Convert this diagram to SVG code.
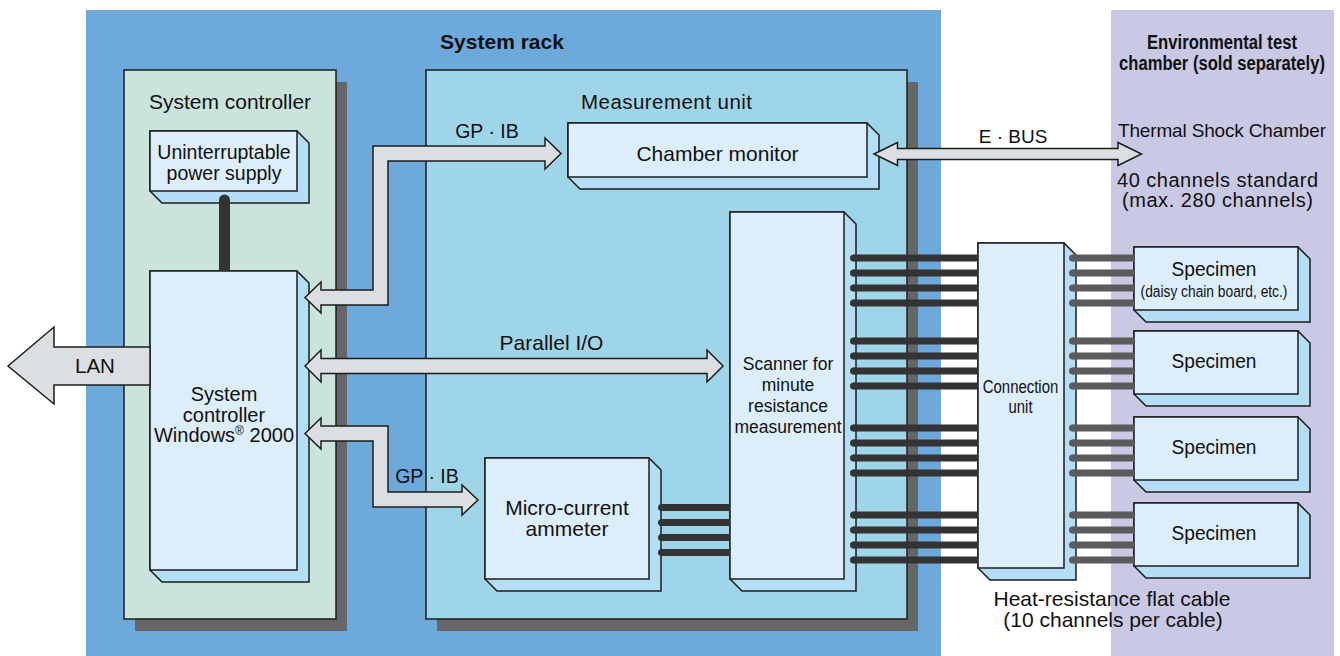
<svg xmlns="http://www.w3.org/2000/svg" width="1340" height="656" viewBox="0 0 1340 656">
  <style>
    text { font-family: "Liberation Sans", Arial, sans-serif; fill: #111; text-anchor: middle; }
    .b { font-weight: bold; }
    .panel-shadow { fill: #666; }
    .panel { stroke: #1c1c1c; stroke-width: 1.5; }
    .side { fill: #b4ddf6; stroke: #1c1c1c; stroke-width: 1.5; stroke-linejoin: miter; }
    .front { fill: #dceefc; stroke: #1c1c1c; stroke-width: 1.5; }
    .arrow { fill: #dcdfe2; stroke: #1c1c1c; stroke-width: 1.5; stroke-linejoin: miter; }
    .cd { stroke: #333; stroke-width: 7; marker-start: url(#capD); }
    .cg { stroke: #5b5b5b; stroke-width: 7; marker-start: url(#capG); }
  </style>
  <defs>
    <marker id="capD" viewBox="0 0 8 8" refX="4" refY="4" markerWidth="8" markerHeight="8" markerUnits="userSpaceOnUse">
      <circle cx="4" cy="4" r="3.5" fill="#333"/>
    </marker>
    <marker id="capG" viewBox="0 0 8 8" refX="4" refY="4" markerWidth="8" markerHeight="8" markerUnits="userSpaceOnUse">
      <circle cx="4" cy="4" r="3.5" fill="#5b5b5b"/>
    </marker>
  </defs>

  <rect width="1340" height="656" fill="#fff"/>

  <!-- system rack -->
  <g id="system-rack">
    <rect x="86" y="10" width="855" height="646" fill="#6ea9dc"/>
    <text class="b" x="502" y="49" font-size="21">System rack</text>
  </g>

  <!-- environmental test chamber -->
  <g id="test-chamber">
    <rect x="1111" y="10" width="223" height="646" fill="#c9c9e5"/>
    <text class="b" x="1222" y="49" font-size="19.5" textLength="150" lengthAdjust="spacingAndGlyphs">Environmental test</text>
    <text class="b" x="1222" y="70" font-size="19.5" textLength="206" lengthAdjust="spacingAndGlyphs">chamber (sold separately)</text>
    <text x="1222" y="137" font-size="19" textLength="208">Thermal Shock Chamber</text>
    <text x="1217.5" y="187" font-size="20" textLength="201">40 channels standard</text>
    <text x="1217.5" y="207" font-size="20" textLength="191">(max. 280 channels)</text>
  </g>

  <!-- system controller panel -->
  <g id="system-controller-panel">
    <rect class="panel-shadow" x="135" y="82" width="212" height="549"/>
    <rect class="panel" x="124" y="70" width="212" height="549" fill="#cae4dd"/>
    <text x="230" y="109" font-size="21">System controller</text>
  </g>

  <!-- measurement unit panel -->
  <g id="measurement-unit-panel">
    <rect class="panel-shadow" x="437" y="82" width="481" height="549"/>
    <rect class="panel" x="426" y="70" width="481" height="549" fill="#9fd5e8"/>
    <text x="666.5" y="109" font-size="20.5" textLength="171">Measurement unit</text>
  </g>

  <!-- uninterruptable power supply -->
  <g id="ups">
    <path class="side" d="M150,131 H297 L309,143 V203 H162 L150,191 Z"/>
    <rect class="front" x="150" y="131" width="147" height="60"/>
    <text x="224" y="159" font-size="19.5">Uninterruptable</text>
    <text x="224" y="180" font-size="19.5">power supply</text>
  </g>

  <!-- system controller PC -->
  <g id="system-controller">
    <path class="side" d="M150,271 H297 L309,283 V582 H162 L150,570 Z"/>
    <rect class="front" x="150" y="271" width="147" height="299"/>
    <text x="224" y="401" font-size="20">System</text>
    <text x="224" y="421.5" font-size="20">controller</text>
    <text x="224" y="442" font-size="20">Windows<tspan font-size="12" dy="-7">®</tspan><tspan dy="7"> 2000</tspan></text>
  </g>

  <!-- chamber monitor -->
  <g id="chamber-monitor">
    <path class="side" d="M568,123 H867 L879,135 V189 H580 L568,177 Z"/>
    <rect class="front" x="568" y="123" width="299" height="54"/>
    <text x="717.5" y="161" font-size="21">Chamber monitor</text>
  </g>

  <!-- scanner -->
  <g id="scanner">
    <path class="side" d="M730,212 H844 L856,224 V591 H742 L730,579 Z"/>
    <rect class="front" x="730" y="212" width="114" height="367"/>
    <text x="788" y="370" font-size="17.5">Scanner for</text>
    <text x="788" y="391" font-size="17.5">minute</text>
    <text x="788" y="412" font-size="17.5">resistance</text>
    <text x="788" y="433" font-size="17.5">measurement</text>
  </g>

  <!-- micro-current ammeter -->
  <g id="ammeter">
    <path class="side" d="M485,458 H649 L661,470 V591 H497 L485,579 Z"/>
    <rect class="front" x="485" y="458" width="164" height="121"/>
    <text x="567" y="515" font-size="21">Micro-current</text>
    <text x="567" y="536" font-size="21">ammeter</text>
  </g>

  <!-- connection unit -->
  <g id="connection-unit">
    <path class="side" d="M978,243 H1064 L1076,255 V580 H990 L978,568 Z"/>
    <rect class="front" x="978" y="243" width="86" height="325"/>
    <g transform="matrix(0.83 0 0 1 1020.5 0)">
      <text x="0" y="393" font-size="18">Connection</text>
      <text x="0" y="413" font-size="18">unit</text>
    </g>
  </g>

  <!-- specimens -->
  <g id="specimen-1">
    <path class="side" d="M1134,247 H1298 L1310,259 V322 H1146 L1134,310 Z"/>
    <rect class="front" x="1134" y="247" width="164" height="63"/>
    <text x="1214" y="276" font-size="19.5" textLength="85" lengthAdjust="spacingAndGlyphs">Specimen</text>
    <g transform="matrix(0.81 0 0 1 1214 0)">
      <text x="0" y="297" font-size="17">(daisy chain board, etc.)</text>
    </g>
  </g>
  <g id="specimen-2">
    <path class="side" d="M1134,331 H1298 L1310,343 V406 H1146 L1134,394 Z"/>
    <rect class="front" x="1134" y="331" width="164" height="63"/>
    <text x="1214" y="368" font-size="19.5" textLength="85" lengthAdjust="spacingAndGlyphs">Specimen</text>
  </g>
  <g id="specimen-3">
    <path class="side" d="M1134,417 H1298 L1310,429 V492 H1146 L1134,480 Z"/>
    <rect class="front" x="1134" y="417" width="164" height="63"/>
    <text x="1214" y="454" font-size="19.5" textLength="85" lengthAdjust="spacingAndGlyphs">Specimen</text>
  </g>
  <g id="specimen-4">
    <path class="side" d="M1134,503 H1298 L1310,515 V578 H1146 L1134,566 Z"/>
    <rect class="front" x="1134" y="503" width="164" height="63"/>
    <text x="1214" y="540" font-size="19.5" textLength="85" lengthAdjust="spacingAndGlyphs">Specimen</text>
  </g>

  <!-- connectors: buses, power link and flat cables -->
  <g id="connectors">
    <!-- UPS power link -->
    <path d="M219,271 V200 A5.5,5.5 0 0 1 230,200 V271 Z" fill="#333"/>

    <!-- LAN -->
    <path class="arrow" d="M8,366 L54,327 V347 H150 V385 H54 V404 Z"/>
    <text x="95" y="373" font-size="20.5">LAN</text>

    <!-- GP-IB to chamber monitor -->
    <path class="arrow" d="M305,297.5 L321,282 V290 H373 V146 H545 V138 L561,153.5 L545,169 V161 H388 V305 H321 V313 Z"/>
    <text x="487" y="137.5" font-size="19.5">GP · IB</text>

    <!-- parallel I/O -->
    <path class="arrow" d="M305,366 L321,350 V358.5 H707 V350 L723,366 L707,382 V373.5 H321 V382 Z"/>
    <text x="551.5" y="350" font-size="21">Parallel I/O</text>

    <!-- GP-IB to ammeter -->
    <path class="arrow" d="M305,433.5 L321,418 V426 H388 V492 H462 V485 L478,500 L462,515 V507 H373 V441 H321 V449 Z"/>
    <text x="427" y="483" font-size="19.5">GP · IB</text>

    <!-- E-BUS -->
    <path class="arrow" d="M874,154 L897.5,142.5 V148.5 H1118 V142.5 L1141.5,154 L1118,165.5 V159.5 H897.5 V165.5 Z"/>
    <text x="1013" y="142.5" font-size="19">E · BUS</text>

    <!-- ammeter to scanner -->
    <line class="cd" x1="661.5" y1="507.5" x2="730" y2="507.5"/>
    <line class="cd" x1="661.5" y1="522.5" x2="730" y2="522.5"/>
    <line class="cd" x1="661.5" y1="537.5" x2="730" y2="537.5"/>
    <line class="cd" x1="661.5" y1="552.5" x2="730" y2="552.5"/>

    <!-- scanner to connection unit -->
    <line class="cd" x1="853.5" y1="258" x2="978" y2="258"/>
    <line class="cd" x1="853.5" y1="273" x2="978" y2="273"/>
    <line class="cd" x1="853.5" y1="288" x2="978" y2="288"/>
    <line class="cd" x1="853.5" y1="303" x2="978" y2="303"/>
    <line class="cd" x1="853.5" y1="341" x2="978" y2="341"/>
    <line class="cd" x1="853.5" y1="356" x2="978" y2="356"/>
    <line class="cd" x1="853.5" y1="371" x2="978" y2="371"/>
    <line class="cd" x1="853.5" y1="386" x2="978" y2="386"/>
    <line class="cd" x1="853.5" y1="428" x2="978" y2="428"/>
    <line class="cd" x1="853.5" y1="443" x2="978" y2="443"/>
    <line class="cd" x1="853.5" y1="458" x2="978" y2="458"/>
    <line class="cd" x1="853.5" y1="473" x2="978" y2="473"/>
    <line class="cd" x1="853.5" y1="515" x2="978" y2="515"/>
    <line class="cd" x1="853.5" y1="530" x2="978" y2="530"/>
    <line class="cd" x1="853.5" y1="545" x2="978" y2="545"/>
    <line class="cd" x1="853.5" y1="560" x2="978" y2="560"/>

    <!-- connection unit to specimens -->
    <line class="cg" x1="1072.5" y1="258" x2="1134" y2="258"/>
    <line class="cg" x1="1072.5" y1="273" x2="1134" y2="273"/>
    <line class="cg" x1="1072.5" y1="288" x2="1134" y2="288"/>
    <line class="cg" x1="1072.5" y1="303" x2="1134" y2="303"/>
    <line class="cg" x1="1072.5" y1="341" x2="1134" y2="341"/>
    <line class="cg" x1="1072.5" y1="356" x2="1134" y2="356"/>
    <line class="cg" x1="1072.5" y1="371" x2="1134" y2="371"/>
    <line class="cg" x1="1072.5" y1="386" x2="1134" y2="386"/>
    <line class="cg" x1="1072.5" y1="428" x2="1134" y2="428"/>
    <line class="cg" x1="1072.5" y1="443" x2="1134" y2="443"/>
    <line class="cg" x1="1072.5" y1="458" x2="1134" y2="458"/>
    <line class="cg" x1="1072.5" y1="473" x2="1134" y2="473"/>
    <line class="cg" x1="1072.5" y1="515" x2="1134" y2="515"/>
    <line class="cg" x1="1072.5" y1="530" x2="1134" y2="530"/>
    <line class="cg" x1="1072.5" y1="545" x2="1134" y2="545"/>
    <line class="cg" x1="1072.5" y1="560" x2="1134" y2="560"/>

    <text x="1112" y="606" font-size="21">Heat-resistance flat cable</text>
    <text x="1113" y="627" font-size="21">(10 channels per cable)</text>
  </g>
</svg>
